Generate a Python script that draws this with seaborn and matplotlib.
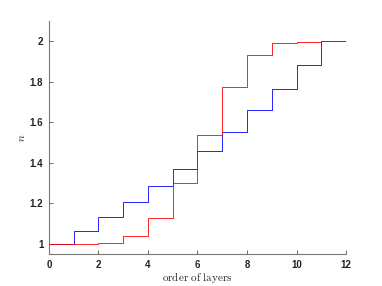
import numpy as np
import pandas as pd
import seaborn as sns
import matplotlib.pyplot as plt

# datos
layers = list(range(13))
n_blue = [1.0, 1.064, 1.132, 1.208, 1.286, 1.37, 1.459, 1.553, 1.658, 1.766, 1.88, 2.0, 2.0]
n_red = [1.0, 1.0, 1.003, 1.038, 1.129, 1.30, 1.538, 1.776, 1.93, 1.989, 1.998, 2.0, 2.0]

df = pd.DataFrame({'layer': layers + layers,
                   'n': n_blue + n_red,
                   'serie': ['blue'] * len(layers) + ['red'] * len(layers)})

sns.set_style('white')
plt.rcParams['mathtext.fontset'] = 'cm'

fig = plt.figure(figsize=(3.82, 2.86), dpi=100)
ax = fig.add_axes([0.128, 0.112, 0.778, 0.815])

sns.lineplot(data=df, x='layer', y='n', hue='serie', palette={'blue': '#0000ff', 'red': '#ff0000'},
             drawstyle='steps-post', linewidth=0.6, legend=False, ax=ax)

ax.set_xlim(0, 12)
ax.set_ylim(0.95, 2.1)
ax.set_xticks([0, 2, 4, 6, 8, 10, 12])
ax.set_yticks([1, 1.2, 1.4, 1.6, 1.8, 2])
ax.set_yticklabels(['1', '1.2', '1.4', '1.6', '1.8', '2'])

for lab in ax.get_xticklabels() + ax.get_yticklabels():
    lab.set_family('Liberation Sans')
    lab.set_fontweight('bold')
    lab.set_fontsize(7)
    lab.set_color('#222222')

ax.tick_params(direction='in', length=3, width=0.6, color='#555555', pad=4,
               left=True, bottom=True)
sns.despine(ax=ax)
for s in ['left', 'bottom']:
    ax.spines[s].set_color('#777777')
    ax.spines[s].set_linewidth(0.8)

ax.set_xlabel(r'$\mathrm{order\ of\ layers}$', fontsize=8, labelpad=0)
ax.set_ylabel(r'$n$', fontsize=8, labelpad=2)

fig.savefig('out.png', dpi=100)
